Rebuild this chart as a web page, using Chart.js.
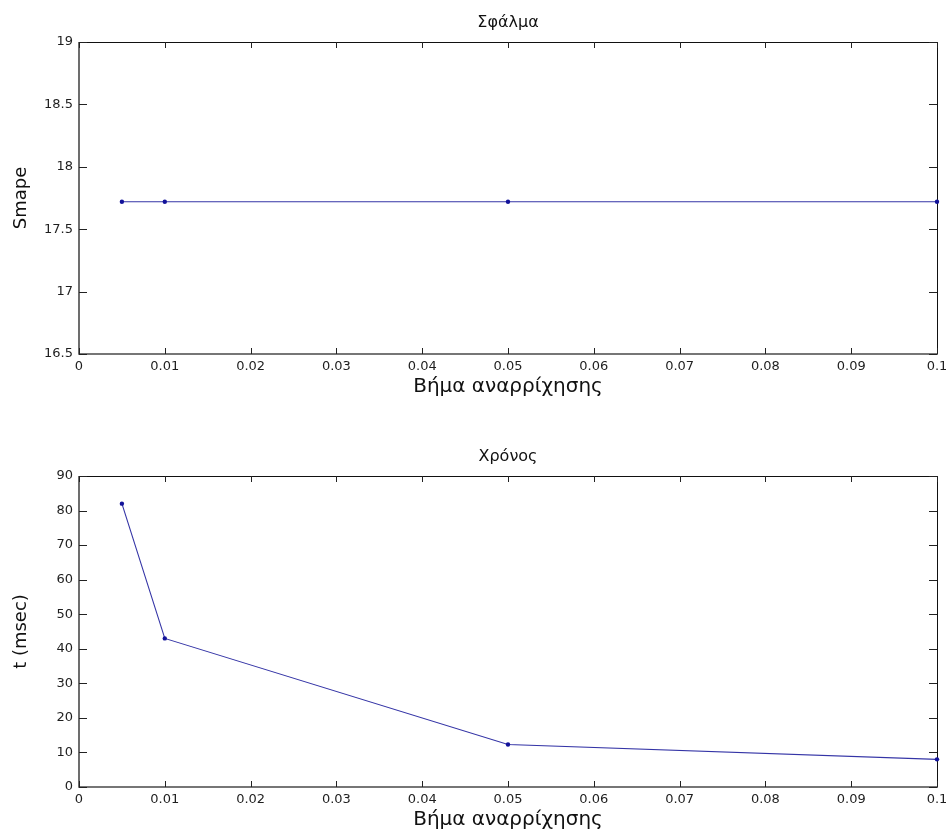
<!DOCTYPE html>
<html>
<head>
<meta charset="utf-8">
<script src="https://cdn.jsdelivr.net/npm/chart.js@4/dist/chart.umd.min.js"></script>
<style>
  html, body { margin: 0; padding: 0; background: #fff; }
  #wrap { position: relative; width: 946px; height: 830px; overflow: hidden; }
  canvas { position: absolute; left: 0; }
  #errChart { top: 0; }
  #timeChart { top: 415px; }
</style>
</head>
<body>
<div id="wrap">
  <canvas id="errChart" width="946" height="415"></canvas>
  <canvas id="timeChart" width="946" height="415"></canvas>
</div>
<script>
// Climbing step sizes tested
const steps = [0.005, 0.01, 0.05, 0.1];
// Error (Smape) for each step
const smapeValues = [17.72, 17.72, 17.72, 17.72];
// Run time in milliseconds for each step
const timeValues = [82, 43, 12.3, 8];

// Tick values and labels
const xTickValues = [0, 0.01, 0.02, 0.03, 0.04, 0.05, 0.06, 0.07, 0.08, 0.09, 0.1];
const xTickLabels = ['0', '0.01', '0.02', '0.03', '0.04', '0.05', '0.06', '0.07', '0.08', '0.09', '0.1'];
const smapeTickValues = [16.5, 17, 17.5, 18, 18.5, 19];
const smapeTickLabels = ['16.5', '17', '17.5', '18', '18.5', '19'];
const timeTickValues = [0, 10, 20, 30, 40, 50, 60, 70, 80, 90];
const timeTickLabels = ['0', '10', '20', '30', '40', '50', '60', '70', '80', '90'];

const TICK_FONT = '"DejaVu Sans", sans-serif';
const LABEL_FONT = '"DejaVu Sans", sans-serif';
const LINE_COLOR = '#3434a6';
const POINT_COLOR = '#12129a';

// Axes box with inward ticks on all four sides, plus title and axis labels
const framePlugin = {
  id: 'frame',
  beforeDatasetsDraw(chart) {
    const { ctx, chartArea: a, scales } = chart;
    const tl = 6;
    ctx.save();
    ctx.lineWidth = 1;
    ctx.strokeStyle = '#111';
    // top and right edges
    ctx.beginPath();
    ctx.moveTo(a.left, a.top + 0.5);
    ctx.lineTo(a.right + 0.5, a.top + 0.5);
    ctx.lineTo(a.right + 0.5, a.bottom);
    ctx.stroke();
    // left and bottom edges
    ctx.strokeStyle = '#4a4a4a';
    ctx.lineWidth = 1.6;
    ctx.beginPath();
    ctx.moveTo(a.left, a.top);
    ctx.lineTo(a.left, a.bottom);
    ctx.lineTo(a.right + 1, a.bottom);
    ctx.stroke();
    // ticks
    ctx.lineWidth = 1;
    ctx.strokeStyle = '#222';
    ctx.beginPath();
    scales.x.ticks.forEach(t => {
      const px = Math.round(scales.x.getPixelForValue(t.value)) + 0.5;
      ctx.moveTo(px, a.bottom); ctx.lineTo(px, a.bottom - tl);
      ctx.moveTo(px, a.top); ctx.lineTo(px, a.top + tl);
    });
    scales.y.ticks.forEach(t => {
      const py = Math.round(scales.y.getPixelForValue(t.value)) + 0.5;
      ctx.moveTo(a.left, py); ctx.lineTo(a.left + tl + 2, py);
      ctx.moveTo(a.right, py); ctx.lineTo(a.right - tl - 2, py);
    });
    ctx.stroke();
    ctx.restore();
  },
  afterDraw(chart, args, opts) {
    const { ctx, chartArea: a } = chart;
    const cx = (a.left + a.right) / 2;
    ctx.save();
    ctx.fillStyle = '#111';
    ctx.textAlign = 'center';
    ctx.textBaseline = 'alphabetic';
    ctx.font = '16px ' + LABEL_FONT;
    ctx.fillText(opts.title, cx, a.top - 15);
    ctx.font = '20px ' + LABEL_FONT;
    ctx.fillText(opts.xLabel, cx, a.bottom + 38);
    ctx.translate(26, (a.top + a.bottom) / 2);
    ctx.rotate(-Math.PI / 2);
    ctx.font = '18px ' + LABEL_FONT;
    ctx.fillText(opts.yLabel, 0, 0);
    ctx.restore();
  }
};

function makeChart(id, values, yTicks, yLabels, yMin, yMax, padTop, xAxisHeight, texts) {
  const points = steps.map((s, i) => ({ x: s, y: values[i] }));
  return new Chart(document.getElementById(id), {
    type: 'line',
    data: {
      datasets: [{
        data: points,
        borderColor: LINE_COLOR,
        borderWidth: 1.1,
        pointRadius: 2.2,
        pointBackgroundColor: POINT_COLOR,
        pointBorderColor: POINT_COLOR,
        pointBorderWidth: 0,
        tension: 0,
        clip: false
      }]
    },
    options: {
      responsive: false,
      animation: false,
      events: [],
      layout: { padding: { left: 0, top: padTop, right: 9, bottom: 0 } },
      plugins: {
        legend: { display: false },
        tooltip: { enabled: false },
        frame: texts
      },
      scales: {
        x: {
          type: 'linear',
          min: 0,
          max: 0.1,
          grid: { display: false, drawTicks: false },
          border: { display: false },
          afterBuildTicks: s => { s.ticks = xTickValues.map(v => ({ value: v })); },
          afterFit: s => { s.height = xAxisHeight; s.paddingLeft = 0; s.paddingRight = 0; },
          ticks: {
            autoSkip: false,
            maxRotation: 0,
            padding: 5,
            color: '#1e1e1e',
            font: { family: TICK_FONT, size: 13 },
            callback: (v, i) => xTickLabels[i]
          }
        },
        y: {
          type: 'linear',
          min: yMin,
          max: yMax,
          grid: { display: false, drawTicks: false },
          border: { display: false },
          afterBuildTicks: s => { s.ticks = yTicks.map(v => ({ value: v })); },
          afterFit: s => { s.width = 79; s.paddingTop = 0; s.paddingBottom = 0; },
          ticks: {
            autoSkip: false,
            padding: 6,
            color: '#1e1e1e',
            font: { family: TICK_FONT, size: 13 },
            callback: (v, i) => yLabels[i]
          }
        }
      }
    },
    plugins: [framePlugin]
  });
}

makeChart('errChart', smapeValues, smapeTickValues, smapeTickLabels, 16.5, 19, 42, 61,
  { title: 'Σφάλμα', xLabel: 'Βήμα αναρρίχησης', yLabel: 'Smape' });
makeChart('timeChart', timeValues, timeTickValues, timeTickLabels, 0, 90, 61, 43,
  { title: 'Χρόνος', xLabel: 'Βήμα αναρρίχησης', yLabel: 't (msec)' });
</script>
</body>
</html>
